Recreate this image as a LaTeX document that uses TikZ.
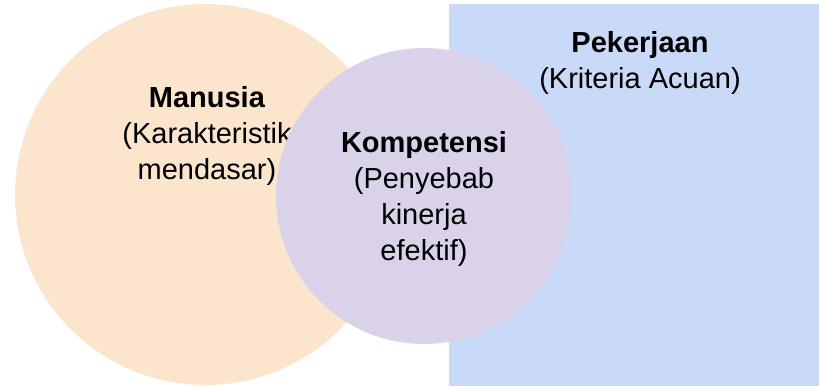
\documentclass[tikz,border=0pt]{standalone}
\usepackage{fontspec}
\setmainfont{Liberation Sans}
\usetikzlibrary{positioning}
\definecolor{manusiaorange}{HTML}{FCE5CD}
\definecolor{kompetensipurple}{HTML}{D9D2E9}
\definecolor{pekerjaanblue}{HTML}{C9DAF8}

\begin{document}
\begin{tikzpicture}[x=0.5pt, y=-0.5pt]
    \tikzstyle{every node}=[inner sep=0pt, outer sep=0pt]
    \tikzstyle{set}=[circle, draw=none]
    \tikzstyle{set text}=[align=center,
                       anchor=north,
                       text=black,
                       font=\fontsize{14.5}{18}\selectfont]
    \useasboundingbox (0,0) rectangle (819,386);
    \node[set, fill=manusiaorange, minimum size=190.5pt] (M) at (205.5,194.5) {};
    \node[set text] (Mtext) at (207,86) {\textbf{Manusia}\\(Karakteristik\\mendasar)};
    \node[fill=pekerjaanblue, minimum width=185pt, minimum height=191pt, anchor=north west] (P) at (449,4) {};
    \node[set text] (Ptext) at (640,31) {\textbf{Pekerjaan}\\(Kriteria Acuan)};
    \node[set, fill=kompetensipurple, minimum size=148pt] (K) at (424,196) {};
    \node[set text] (Ktext) at (424,131) {\textbf{Kompetensi}\\(Penyebab\\kinerja\\efektif)};
\end{tikzpicture}
\end{document}
